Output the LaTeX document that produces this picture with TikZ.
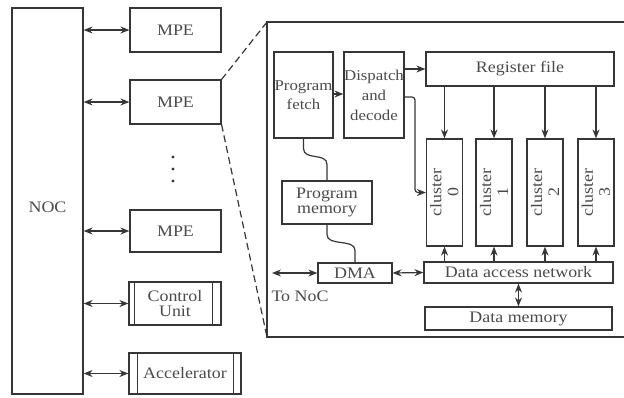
\documentclass[tikz,border=0pt]{standalone}
\usepackage{fontspec}
\setmainfont{Liberation Serif}[FakeStretch=1.12]
\usetikzlibrary{arrows.meta,calc}
\definecolor{ink}{HTML}{363636}
\definecolor{txt}{HTML}{4A4A4A}
\tikzset{
  box/.style={draw=ink, line width=1.2pt, inner sep=0pt, align=center, text=txt,
    font=\fontsize{16}{15}\selectfont},
  lbl/.style={inner sep=0pt, align=center, text=txt, font=\fontsize{16}{15}\selectfont},
  wire/.style={draw=ink, line width=1.2pt},
  tip/.style={-{Stealth[length=9pt,width=7pt]}},
  tips/.style={{Stealth[length=9pt,width=7pt]}-{Stealth[length=9pt,width=7pt]}},
}
\begin{document}
\begin{tikzpicture}[x=1pt,y=-1pt]
\useasboundingbox (0,0) rectangle (624,397);

% network on chip and attached units
\node[box, minimum width=71, minimum height=386] (noc) at (47.5,201) {};
\node[lbl] (noct) at (47.5,207) {NOC};
\node[box, minimum width=91, minimum height=44] (mpe1) at (175.5,30) {MPE};
\node[box, minimum width=91, minimum height=44] (mpe2) at (175.5,102) {MPE};
\node[box, minimum width=91, minimum height=42] (mpe3) at (175.5,231) {MPE};
\node[box, minimum width=92, minimum height=43] (cu) at (175,303.5) {Control\\Unit};
\node[box, minimum width=112, minimum height=41] (acc) at (185,373.5) {Accelerator};
\draw[wire] ([xshift=6]cu.north west) -- ([xshift=6]cu.south west);
\draw[wire] ([xshift=-9]cu.north east) -- ([xshift=-9]cu.south east);
\draw[wire] ([xshift=9]acc.north west) -- ([xshift=9]acc.south west);
\draw[wire] ([xshift=-8]acc.north east) -- ([xshift=-8]acc.south east);

\foreach \n/\yy in {d1/157,d2/169,d3/181}
  \fill[ink] (173,\yy) circle[radius=1.7] coordinate (\n);

\foreach \b in {mpe1,mpe2,mpe3,cu,acc}
  \draw[wire,tips] (noc.east |- \b.west) -- (\b.west);

% expanded MPE outline
\coordinate (bbtl) at (267,22);
\coordinate (bbbl) at (267,337);
\draw[wire] (626,22) -- (bbtl) -- (bbbl) -- (626,337);
\draw[wire, dash pattern=on 7pt off 4pt] (mpe2.north east) -- (bbtl);
\draw[wire, dash pattern=on 7pt off 4pt] (mpe2.south east) -- (bbbl);

% inside the MPE
\node[box, minimum width=59, minimum height=86, font=\fontsize{15}{19}\selectfont] (fetch) at (303.5,95) {Program\\fetch};
\node[box, minimum width=60, minimum height=86, font=\fontsize{15}{20}\selectfont] (disp) at (374,95) {Dispatch\\and\\decode};
\node[box, minimum width=188, minimum height=34] (reg) at (520,69) {Register file};
\node[box, minimum width=90, minimum height=43] (pmem) at (327,202.5) {Program\\memory};
\node[box, minimum width=74, minimum height=20] (dma) at (355,273) {DMA};
\node[box, minimum width=189, minimum height=21] (dan) at (518.5,272.5) {Data access network};
\node[box, minimum width=187, minimum height=23] (dmem) at (518.5,318.5) {Data memory};
\node[lbl] (tonoct) at (300,296) {To NoC};

\foreach \i/\xx in {0/444.5,1/494,2/545,3/596}{
  \node[box, minimum width=36, minimum height=107] (c\i) at (\xx,192.5) {};
  \node[lbl, rotate=90, font=\fontsize{16}{17}\selectfont] (c\i t) at (\xx,192.5) {cluster\\\i};
  \draw[wire,tip] (c\i.north |- reg.south) -- (c\i.north);
  \draw[wire,tip] (c\i.south |- dan.north) -- (c\i.south);
}

\draw[wire,tip] (fetch.east |- 0,94) -- (disp.west |- 0,94);
\draw[wire,tip] (disp.east |- reg.west) -- (reg.west);
\draw[wire,tip,rounded corners=3pt] (disp.east |- 0,97) -- (415,97) -- (415,192.5) -- (c0.west);

\draw[wire] (fetch.south) -- ($(fetch.south)+(0,10)$)
  .. controls ($(fetch.south)+(0,22)$) and ($(pmem.north)+(0,-28)$) .. ($(pmem.north)+(0,-16)$)
  -- (pmem.north);
\draw[wire] (pmem.south) -- ($(pmem.south)+(0,10)$)
  .. controls ($(pmem.south)+(0,22)$) and ($(dma.north)+(0,-24)$) .. ($(dma.north)+(0,-12)$)
  -- (dma.north);

\coordinate (tonoc) at (272,273);
\draw[wire,tips] (tonoc) -- (dma.west);
\draw[wire,tips] (dma.east) -- (dan.west);
\draw[wire,tips] (dan.south) -- (dmem.north);
\end{tikzpicture}
\end{document}
